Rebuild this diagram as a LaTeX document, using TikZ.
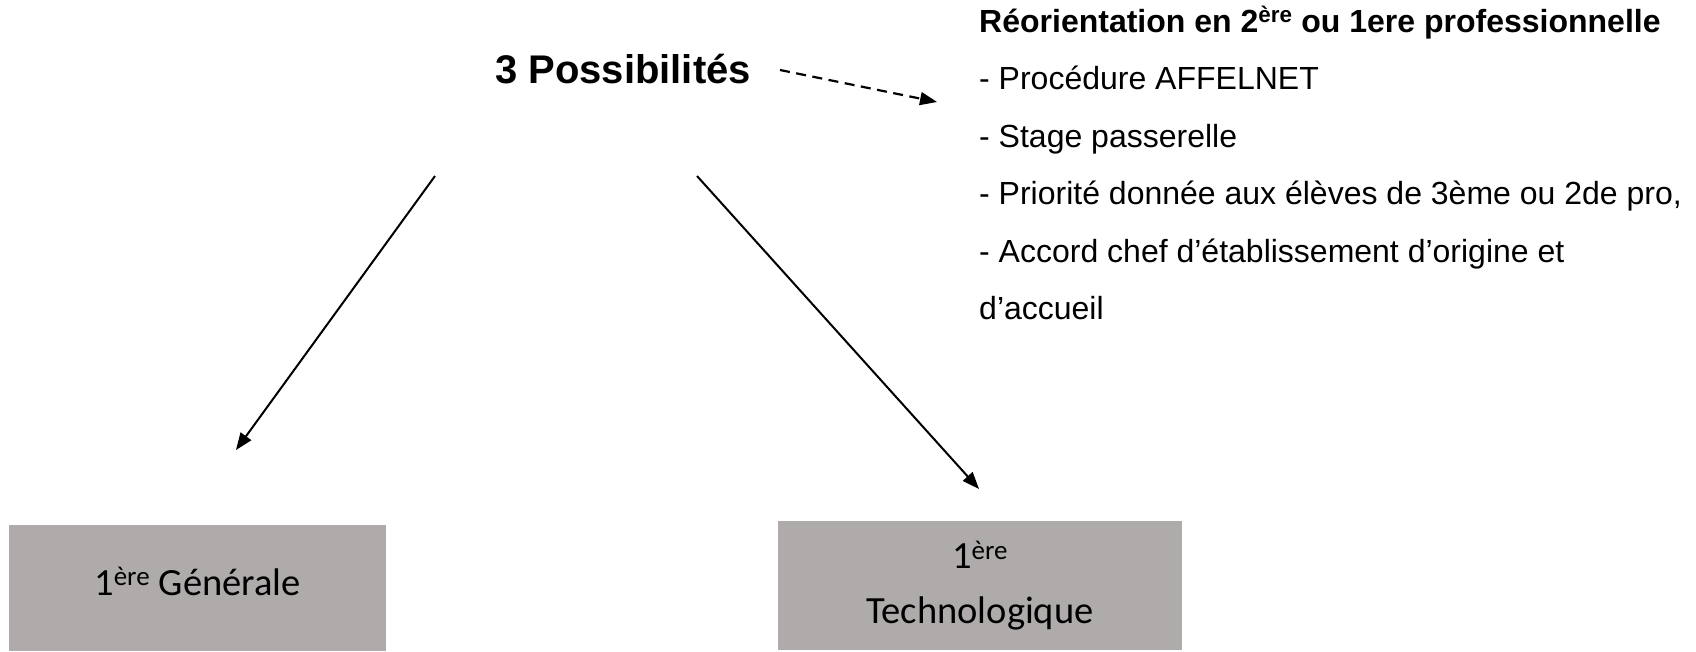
\documentclass[tikz,border=0pt]{standalone}
\usepackage{fontspec}
\setmainfont{Liberation Sans}
\newfontfamily\carlito{Carlito}
\usetikzlibrary{positioning,arrows.meta}
\definecolor{boxgray}{HTML}{AFABAB}

\begin{document}
\begin{tikzpicture}
            [
            x=1pt, y=-1pt,
            choice/.style={fill=boxgray, inner sep=0pt, align=center,
                font=\carlito\fontsize{38.5}{55}\selectfont},
            item/.style={anchor=base west, inner sep=0pt,
                font=\fontsize{32}{38}\selectfont},
            down arrow/.style={-{Triangle[length=17pt, width=13pt]}, line width=2pt},
            side arrow/.style={-{Triangle[length=17pt, width=13pt]}, line width=2.2pt,
                dash pattern=on 10pt off 6.5pt}
            ]
            \useasboundingbox (0,0) rectangle (1696,651);

            \node (poss) [anchor=base west, inner sep=0pt,
                font=\bfseries\fontsize{40}{48}\selectfont] at (495,83) {3 Possibilités};

            % Reorientation list
            \node (l1) [item, font=\bfseries\fontsize{32}{38}\selectfont] at (979,32)
                {Réorientation en 2\textsuperscript{ère} ou 1ere professionnelle};
            \foreach \t [count=\i from 2] in {{- Procédure AFFELNET},
                {- Stage passerelle},
                {- Priorité donnée aux élèves de 3ème ou 2de pro,},
                {- Accord chef d’établissement d’origine et},
                {d’accueil}}{
                \node (l\i) [item] at (979,{32+57.5*(\i-1)}) {\t};
            }

            % Choices
            \node (gen) [choice, minimum width=377pt, minimum height=126pt,
                text height=20pt, text depth=6pt] at (197.5,588)
                {1\textsuperscript{ère} Générale};
            \node (techno) [choice, minimum width=404pt, minimum height=129pt]
                at (980,585.5) {1\textsuperscript{ère}\\Technologique};

            \coordinate (g0) at (435,176);
            \coordinate (g1) at (236,450);
            \coordinate (t0) at (697,176);
            \coordinate (t1) at (979,489);
            \coordinate (r0) at (780,70);
            \coordinate (r1) at (937,102);

            \draw [down arrow] (g0) -- (g1);
            \draw [down arrow] (t0) -- (t1);
            \draw [side arrow] (r0) -- (r1);

        \end{tikzpicture}
\end{document}
